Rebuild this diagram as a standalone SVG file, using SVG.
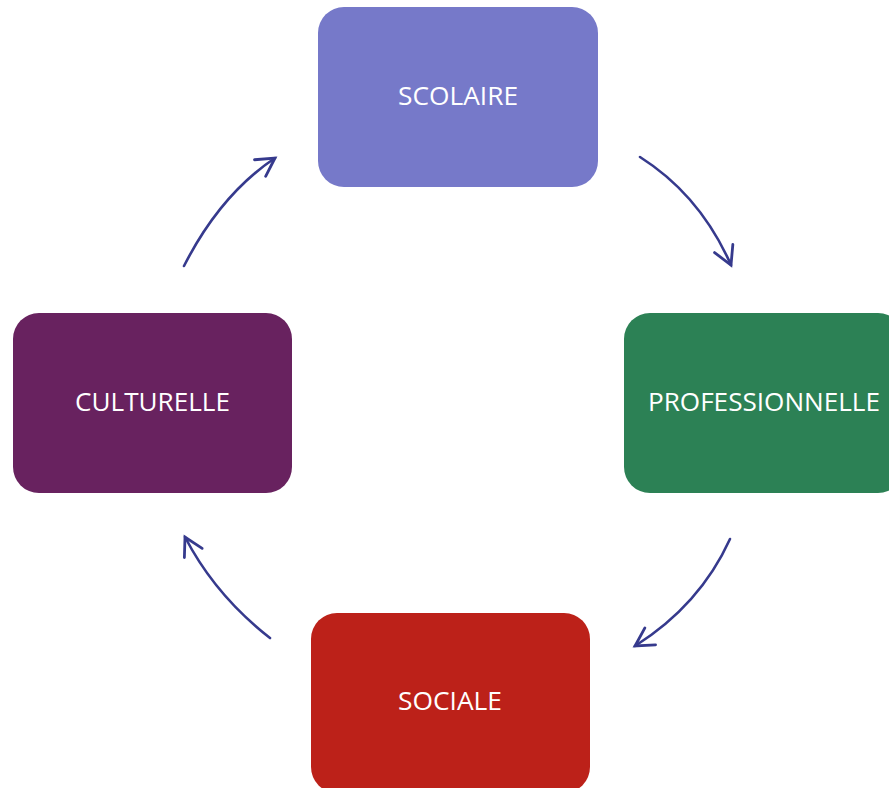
<svg xmlns="http://www.w3.org/2000/svg" width="889" height="788" viewBox="0 0 889 788">
<style>
.lbl{font-family:"Open Sans","Liberation Sans",sans-serif;font-size:25px;fill:#ffffff;text-anchor:middle}
.conn{fill:none;stroke:#363a8d;stroke-width:2.6;stroke-linecap:round}
</style>
<defs>
<marker id="ah" markerUnits="userSpaceOnUse" markerWidth="40" markerHeight="40" viewBox="-25 -20 40 40" refX="0" refY="0" orient="auto" overflow="visible">
<path d="M-18,-10 L0,0 L-18,10" fill="none" stroke="#363a8d" stroke-width="2.8" stroke-linecap="round" stroke-linejoin="miter"/>
</marker>
</defs>
<g id="scolaire"><rect x="318" y="7" width="280" height="180" rx="26" fill="#7679c9"/><text class="lbl" x="458" y="105" textLength="120" lengthAdjust="spacingAndGlyphs">SCOLAIRE</text></g>
<g id="professionnelle"><rect x="624" y="313" width="280" height="180" rx="26" fill="#2c8155"/><text class="lbl" x="764" y="411" textLength="232" lengthAdjust="spacingAndGlyphs">PROFESSIONNELLE</text></g>
<g id="culturelle"><rect x="13" y="313" width="279" height="180" rx="26" fill="#68225f"/><text class="lbl" x="152.5" y="411" textLength="155" lengthAdjust="spacingAndGlyphs">CULTURELLE</text></g>
<g id="sociale"><rect x="311" y="613" width="279" height="180" rx="26" fill="#bc2119"/><text class="lbl" x="450" y="710" textLength="104" lengthAdjust="spacingAndGlyphs">SOCIALE</text></g>
<g id="connectors">
<path class="conn" d="M640,157 Q700,195 731,265" marker-end="url(#ah)"/>
<path class="conn" d="M730,539 Q700,605 635,646" marker-end="url(#ah)"/>
<path class="conn" d="M270,638 Q215,595 185,537" marker-end="url(#ah)"/>
<path class="conn" d="M184,266 Q220,195 275,158" marker-end="url(#ah)"/>
</g>
</svg>
